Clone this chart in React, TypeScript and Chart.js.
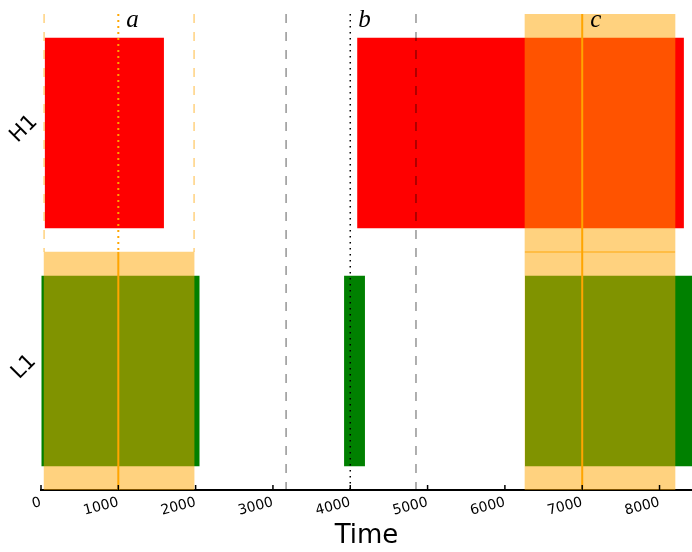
import React, { useEffect, useRef } from 'react';
import { Chart, registerables } from 'chart.js';

Chart.register(...registerables);

// ---- data ----
const ROWS = ['H1', 'L1'];
const H1_SEGMENTS: [number, number][] = [[50, 1590], [4090, 8315]];
const L1_SEGMENTS: [number, number][] = [[0, 2050], [3920, 4190], [6260, 8500]];
const SPAN_A: [number, number] = [40, 1980];
const SPAN_C: [number, number] = [6260, 8200];
const MARKER_A = 1000;
const MARKER_B = 4000;
const MARKER_C = 7000;
const MARKER_LABELS = ['a', 'b', 'c'];
const GRAY_LINES = [3170, 4850];
const X_TICKS = [0, 1000, 2000, 3000, 4000, 5000, 6000, 7000, 8000];
const X_MIN = 0;
const X_MAX = 8420;
const X_TITLE = 'Time';

// ---- styles ----
const RED = '#ff0000';
const GREEN = '#008000';
const ORANGE = '#ffa500';
const ORANGE_FILL = 'rgba(255,165,0,0.5)';

const overlayPlugin = {
  id: 'overlay',
  afterDatasetsDraw(chart: any) {
    const { ctx, chartArea, scales } = chart;
    const xs = scales.x;
    const ys = scales.y;
    const top = chartArea.top;
    const bottom = chartArea.bottom;
    const mid = (ys.getPixelForValue(0) + ys.getPixelForValue(1)) / 2;
    const vline = (v: number, y0: number, y1: number, color: string, width: number, dash: number[]) => {
      const px = xs.getPixelForValue(v);
      ctx.save();
      ctx.strokeStyle = color;
      ctx.lineWidth = width;
      ctx.setLineDash(dash);
      ctx.beginPath();
      ctx.moveTo(px, y0);
      ctx.lineTo(px, y1);
      ctx.stroke();
      ctx.restore();
    };
    // overlap edge of span c between rows
    ctx.save();
    ctx.strokeStyle = ORANGE_FILL;
    ctx.lineWidth = 1.5;
    ctx.beginPath();
    ctx.moveTo(xs.getPixelForValue(SPAN_C[0]), mid);
    ctx.lineTo(xs.getPixelForValue(SPAN_C[1]), mid);
    ctx.stroke();
    ctx.restore();
    // span a edges in H1 (unfilled)
    vline(SPAN_A[0], top, mid, ORANGE_FILL, 1.5, [9, 9]);
    vline(SPAN_A[1], top, mid, ORANGE_FILL, 1.5, [9, 9]);
    // gray dashed
    GRAY_LINES.forEach((g) => vline(g, top, bottom, 'rgba(0,0,0,0.42)', 1.5, [9, 9]));
    // marker a
    vline(MARKER_A, top, mid, ORANGE, 2, [2, 4]);
    vline(MARKER_A, mid, bottom, ORANGE, 2, []);
    // marker b
    vline(MARKER_B, top, bottom, '#000000', 1.5, [1.5, 4.5]);
    // marker c
    vline(MARKER_C, top, bottom, ORANGE, 2, []);
    // labels
    ctx.save();
    ctx.fillStyle = '#000000';
    ctx.font = "italic 25px 'Liberation Serif'";
    ctx.textAlign = 'left';
    ctx.textBaseline = 'alphabetic';
    [MARKER_A, MARKER_B, MARKER_C].forEach((m, i) => {
      ctx.fillText(MARKER_LABELS[i], xs.getPixelForValue(m) + 8, top + 13);
    });
    ctx.restore();
    // inward tick marks
    ctx.save();
    ctx.strokeStyle = '#000000';
    ctx.lineWidth = 1.5;
    X_TICKS.forEach((t) => {
      const px = xs.getPixelForValue(t);
      ctx.beginPath();
      ctx.moveTo(px, bottom);
      ctx.lineTo(px, bottom - 5);
      ctx.stroke();
    });
    ctx.restore();
    // y labels
    ctx.save();
    ctx.fillStyle = '#000000';
    ctx.font = "21px 'DejaVu Sans'";
    ctx.textAlign = 'center';
    ctx.textBaseline = 'middle';
    ROWS.forEach((r, i) => {
      const py = ys.getPixelForValue(i) - 4;
      ctx.save();
      ctx.translate(24, py);
      ctx.rotate(-Math.PI / 4);
      ctx.fillText(r, 0, 0);
      ctx.restore();
    });
    ctx.restore();
  },
};

function rowData(rowIndex: number, seg: [number, number]) {
  return ROWS.map((_, i) => (i === rowIndex ? seg : null));
}

export default function App() {
  const ref = useRef<HTMLCanvasElement | null>(null);
  useEffect(() => {
    if (!ref.current) return;
    const segDs = (row: number, seg: [number, number], color: string) => ({
      data: rowData(row, seg),
      backgroundColor: color,
      borderWidth: 0,
      barPercentage: 0.8,
      categoryPercentage: 1,
      grouped: false,
      order: 1,
    });
    const datasets: any[] = [
      {
        data: rowData(1, SPAN_A),
        backgroundColor: ORANGE_FILL,
        borderWidth: 0,
        barPercentage: 1,
        categoryPercentage: 1,
        grouped: false,
        order: 0,
      },
      {
        data: ROWS.map(() => SPAN_C),
        backgroundColor: ORANGE_FILL,
        borderWidth: 0,
        barPercentage: 1,
        categoryPercentage: 1,
        grouped: false,
        order: 0,
      },
      ...H1_SEGMENTS.map((s) => segDs(0, s, RED)),
      ...L1_SEGMENTS.map((s) => segDs(1, s, GREEN)),
    ];
    const chart = new Chart(ref.current, {
      type: 'bar',
      data: { labels: ROWS, datasets },
      options: {
        animation: false,
        responsive: false,
        indexAxis: 'y',
        layout: { padding: { top: 14, left: 0, right: 0, bottom: 0 } },
        plugins: { legend: { display: false }, tooltip: { enabled: false } },
        scales: {
          x: {
            type: 'linear',
            min: X_MIN,
            max: X_MAX,
            afterBuildTicks: (scale: any) => {
              scale.ticks = X_TICKS.map((v) => ({ value: v }));
            },
            afterFit: (scale: any) => {
              scale.height = 62;
              scale.paddingLeft = 0;
              scale.paddingRight = 0;
            },
            ticks: {
              autoSkip: false,
              minRotation: 15,
              maxRotation: 15,
              padding: 4,
              color: '#000000',
              font: { family: 'DejaVu Sans', size: 14 },
              callback: (v: any) => String(v),
            },
            grid: { display: true, drawOnChartArea: false, drawTicks: false },
            border: { display: true, color: '#000000', width: 2 },
            title: {
              display: true,
              text: X_TITLE,
              color: '#000000',
              font: { family: 'DejaVu Sans', size: 26 },
              padding: { top: 0, bottom: 0 },
            },
          },
          y: {
            type: 'category',
            offset: true,
            afterFit: (scale: any) => {
              scale.width = 41;
            },
            ticks: { display: false },
            grid: { display: false },
            border: { display: false },
          },
        },
      },
      plugins: [overlayPlugin],
    });
    return () => chart.destroy();
  }, []);
  return (
    <div style={{ position: 'fixed', left: 0, top: 0, width: 692, height: 552, background: '#fff' }}>
      <canvas ref={ref} width={692} height={552} style={{ display: 'block' }} />
    </div>
  );
}
